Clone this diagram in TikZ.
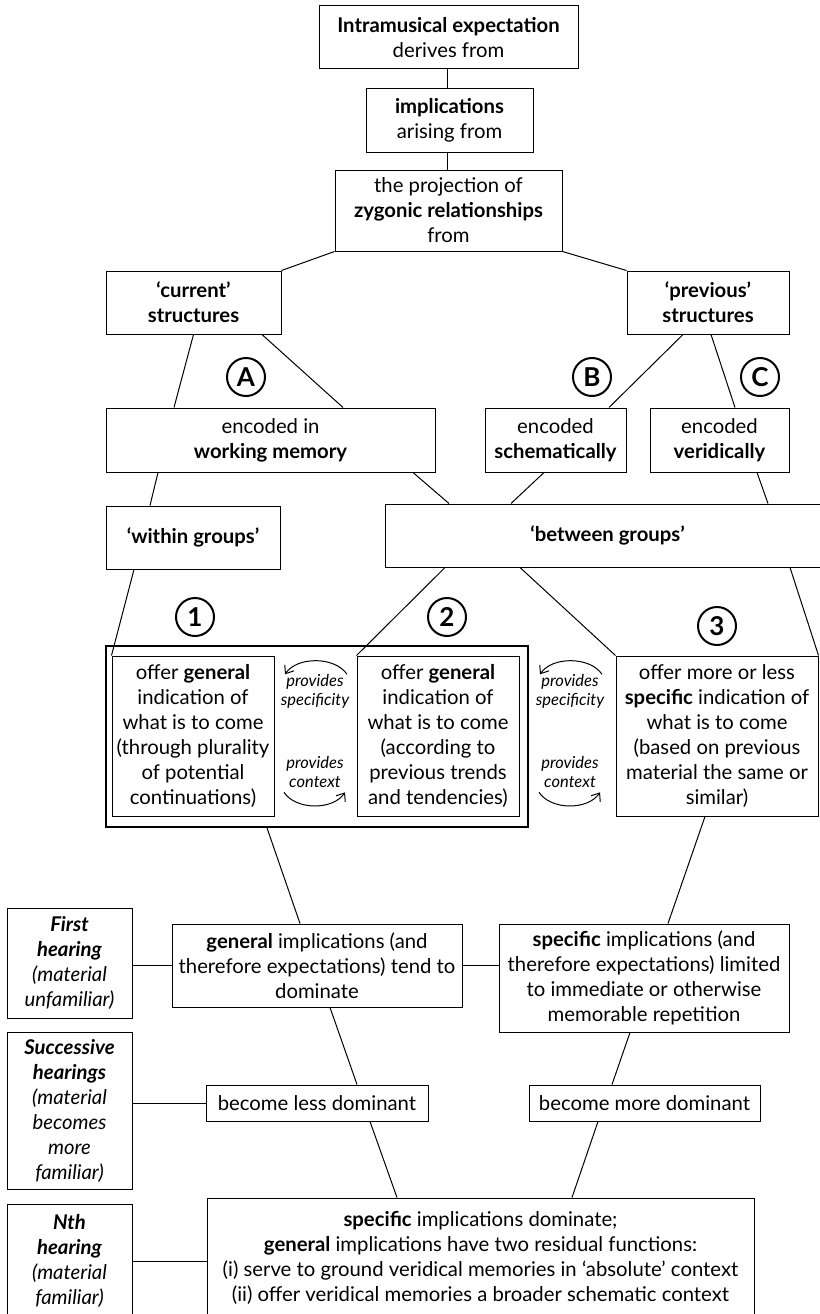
\documentclass[tikz,border=0pt]{standalone}
\usepackage{fontspec}
\setmainfont{Lato}
\usetikzlibrary{calc}
\usetikzlibrary{positioning}
\usetikzlibrary{arrows.meta}

\begin{document}
\begin{tikzpicture}[x=1pt,y=-1pt,
  box/.style={draw, line width=1pt, align=center, inner sep=0pt, font=\fontsize{20.3}{25}\selectfont},
  hearing/.style={box, font=\fontsize{20.3}{25}\selectfont\itshape},
  numcircle/.style={draw, circle, line width=2pt, minimum size=38pt, inner sep=0pt, font=\fontsize{26}{26}\selectfont\bfseries},
  provides/.style={align=center, inner sep=0pt, font=\fontsize{16.5}{19}\selectfont\itshape},
  link/.style={line width=1pt},
  curl/.style={line width=1pt, -{Straight Barb[length=7pt,width=11pt]}}]
\useasboundingbox (0,0) rectangle (819,1314);

\node[box, minimum width=259, minimum height=63] (intra) at (448.5,37.5) {\textbf{Intramusical expectation}\\derives from};
\node[box, minimum width=167, minimum height=64] (impl) at (449.5,120) {\textbf{implications}\\arising from};
\node[box, minimum width=227, minimum height=81] (proj) at (448.5,210.5) {the projection of\\\textbf{zygonic relationships}\\from};
\node[box, minimum width=175, minimum height=63] (curr) at (193.5,302.5) {\textbf{‘current’}\\\textbf{structures}};
\node[box, minimum width=162, minimum height=63] (prev) at (708,302.5) {\textbf{‘previous’}\\\textbf{structures}};

\node[numcircle] (circA) at (246,377) {A};
\node[numcircle] (circB) at (592,377) {B};
\node[numcircle] (circC) at (760,377) {C};

\node[box, minimum width=329, minimum height=64] (wm) at (270.5,440) {encoded in\\\textbf{working memory}};
\node[box, minimum width=141, minimum height=64] (schem) at (555.5,440) {encoded\\\textbf{schematically}};
\node[box, minimum width=139, minimum height=64] (verid) at (719.5,440) {encoded\\\textbf{veridically}};
\node[box, minimum width=174, minimum height=63] (within) at (193,537.5) {\textbf{‘within groups’}};
\node[box, minimum width=445, minimum height=63] (between) at (607.5,535.5) {\textbf{‘between groups’}};

\node[numcircle] (circ1) at (195,617) {1};
\node[numcircle] (circ2) at (447,617) {2};
\node[numcircle] (circ3) at (717,626) {3};

\node[draw, line width=1.8pt, minimum width=422, minimum height=181, inner sep=0pt] (group) at (317,736.5) {};
\node[box, minimum width=162, minimum height=160] (offer1) at (193,736) {offer \textbf{general}\\indication of\\what is to come\\(through plurality\\of potential\\continuations)};
\node[box, minimum width=162, minimum height=160] (offer2) at (438,736) {offer \textbf{general}\\indication of\\what is to come\\(according to\\previous trends\\and tendencies)};
\node[box, minimum width=202, minimum height=160] (offer3) at (717,736) {offer more or less\\\textbf{specific} indication of\\what is to come\\(based on previous\\material the same or\\similar)};

\node[provides] (spec12) at (315,691.5) {provides\\specificity};
\node[provides] (ctx12) at (315,771.5) {provides\\context};
\node[provides] (spec23) at (570,691.5) {provides\\specificity};
\node[provides] (ctx23) at (570,771.5) {provides\\context};

\node[hearing, minimum width=125, minimum height=110] (first) at (69.5,963) {\textbf{First}\\\textbf{hearing}\\(material\\unfamiliar)};
\node[hearing, minimum width=125, minimum height=157] (succ) at (69.5,1110.5) {\textbf{Successive}\\\textbf{hearings}\\(material\\becomes\\more\\familiar)};
\node[hearing, minimum width=125, minimum height=114] (nth) at (69.5,1261) {\textbf{Nth}\\\textbf{hearing}\\(material\\familiar)};

\node[box, minimum width=290, minimum height=83] (genimpl) at (317,965.5) {\textbf{general} implications (and\\therefore expectations) tend to\\dominate};
\node[box, minimum width=290, minimum height=108] (specimpl) at (644,978) {\textbf{specific} implications (and\\therefore expectations) limited\\to immediate or otherwise\\memorable repetition};
\node[box, minimum width=222, minimum height=36] (less) at (317,1103) {become less dominant};
\node[box, minimum width=231, minimum height=36] (more) at (644.5,1103) {become more dominant};
\node[box, minimum width=547, minimum height=120] (final) at (480.5,1258) {\textbf{specific} implications dominate;\\\textbf{general} implications have two residual functions:\\(i) serve to ground veridical memories in ‘absolute’ context\\(ii) offer veridical memories a broader schematic context};

\draw[link] ([xshift=-1.5pt]intra.south) -- ([xshift=-2.5pt]impl.north);
\draw[link] ([xshift=-2.5pt]impl.south) -- ([xshift=-1.5pt]proj.north);
\draw[link] (proj.south west) -- (curr.north east);
\draw[link] (proj.south east) -- (prev.north west);
\draw[link] (curr.south) -- ([xshift=-96.5pt]wm.north);
\draw[link] ([xshift=68.5pt]curr.south) -- ([xshift=72.5pt]wm.north);
\draw[link] ([xshift=-25pt]prev.south) -- ([xshift=53.5pt]schem.north);
\draw[link] ([xshift=3pt]prev.south) -- ([xshift=15.5pt]verid.north);
\draw[link] ([xshift=-112.5pt]wm.south) -- ([xshift=-43pt]within.north);
\draw[link] ([xshift=142.5pt]wm.south) -- ([xshift=-158.5pt]between.north);
\draw[link] ([xshift=-11.5pt]schem.south) -- ([xshift=-96.5pt]between.north);
\draw[link] ([xshift=37.5pt]verid.south) -- ([xshift=160.5pt]between.north);
\draw[link] ([xshift=-59pt]within.south) -- (offer1.north west);
\draw[link] ([xshift=-162.5pt]between.south) -- (offer2.north west);
\draw[link] ([xshift=-87.5pt]between.south) -- (offer3.north west);
\draw[link] ([xshift=182.5pt]between.south) -- (offer3.north east);

\draw[curl] ([xshift=32pt]spec12.north) .. controls +(-12,-18) and +(12,-18) .. ([xshift=-30pt]spec12.north);
\draw[curl] ([xshift=-31pt,yshift=-5pt]ctx12.south) .. controls +(12,18) and +(-12,18) .. ([xshift=30pt,yshift=-5pt]ctx12.south);
\draw[curl] ([xshift=32pt]spec23.north) .. controls +(-12,-18) and +(12,-18) .. ([xshift=-30pt]spec23.north);
\draw[curl] ([xshift=-31pt,yshift=-5pt]ctx23.south) .. controls +(12,18) and +(-12,18) .. ([xshift=30pt,yshift=-5pt]ctx23.south);

\draw[link] ([xshift=-50pt]group.south) -- ([xshift=-17pt]genimpl.north);
\draw[link] ([xshift=-12pt]offer3.south) -- ([xshift=24pt]specimpl.north);
\draw[link] (genimpl.west) -- (genimpl.west -| first.east);
\draw[link] (genimpl.east) -- (genimpl.east -| specimpl.west);
\draw[link] ([xshift=13pt]genimpl.south) -- ([xshift=40pt]less.north);
\draw[link] ([xshift=-14pt]specimpl.south) -- ([xshift=-32.5pt]more.north);
\draw[link] (less.west) -- (less.west -| succ.east);
\draw[link] ([xshift=53pt]less.south) -- ([xshift=-83.5pt]final.north);
\draw[link] ([xshift=-46.5pt]more.south) -- ([xshift=91.5pt]final.north);
\draw[link] (nth.east) -- (nth.east -| final.west);
\end{tikzpicture}
\end{document}
